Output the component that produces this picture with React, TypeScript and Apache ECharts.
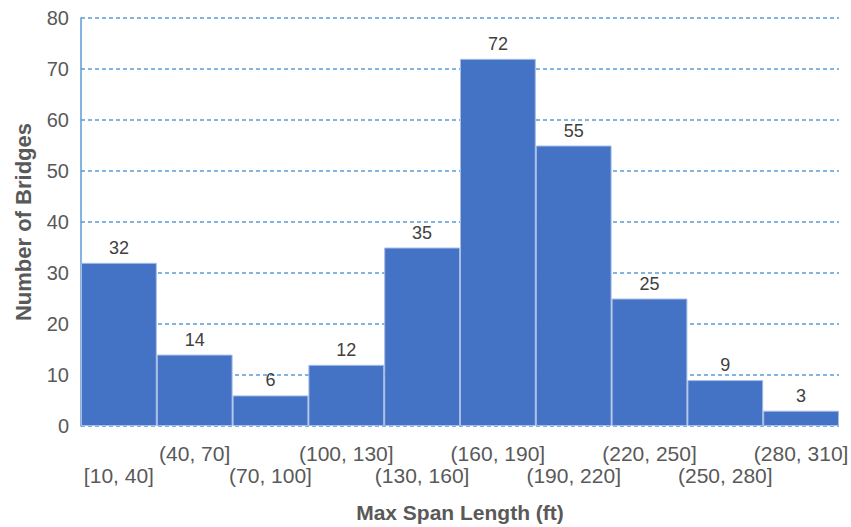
import React, { useEffect, useRef } from "react";
import * as echarts from "echarts";

// Span-length bins and bridge counts per bin
const bins = [
  "[10, 40]",
  "(40, 70]",
  "(70, 100]",
  "(100, 130]",
  "(130, 160]",
  "(160, 190]",
  "(190, 220]",
  "(220, 250]",
  "(250, 280]",
  "(280, 310]",
];
const counts = [32, 14, 6, 12, 35, 72, 55, 25, 9, 3];
const yTicks = { min: 0, max: 80, interval: 10 };

const FONT = "'Liberation Sans', Arial, sans-serif";

export default function App() {
  const ref = useRef<HTMLDivElement>(null);

  useEffect(() => {
    if (!ref.current) return;
    const chart = echarts.init(ref.current, null, { renderer: "svg" });
    chart.setOption({
      animation: false,
      backgroundColor: "#ffffff",
      grid: {
        left: 81,
        right: 12,
        top: 18,
        bottom: 101,
        containLabel: false,
        outerBoundsMode: "none",
      },
      xAxis: {
        type: "category",
        data: bins,
        name: "Max Span Length (ft)",
        nameLocation: "middle",
        nameGap: 76,
        nameTextStyle: { fontFamily: FONT, fontSize: 21, fontWeight: "bold", color: "#595959" },
        axisLine: { show: false },
        axisTick: { show: false },
        axisLabel: {
          interval: 0,
          margin: 16,
          fontFamily: FONT,
          fontSize: 21,
          color: "#595959",
          lineHeight: 22,
          hideOverlap: false,
          // Alternate bins drop to a second row so the labels don't collide
          formatter: (v: string, i: number) => (i % 2 === 0 ? "\n" + v : v),
        },
      },
      yAxis: {
        type: "value",
        min: yTicks.min,
        max: yTicks.max,
        interval: yTicks.interval,
        name: "Number of Bridges",
        nameLocation: "middle",
        nameGap: 47,
        nameTextStyle: { fontFamily: FONT, fontSize: 22, fontWeight: "bold", color: "#595959" },
        axisLine: { show: true, lineStyle: { color: "#5b9bd5", width: 1.5 } },
        axisTick: { show: false },
        axisLabel: { fontFamily: FONT, fontSize: 20, color: "#595959", margin: 12 },
        splitLine: { show: true, lineStyle: { color: "#5b9bd5", width: 1.5, type: [4, 3] } },
      },
      series: [
        {
          type: "bar",
          data: counts,
          barCategoryGap: "0%",
          itemStyle: { color: "#4472c4", borderColor: "#a8bde6", borderWidth: 1 },
          label: {
            show: true,
            position: "top",
            distance: 6,
            fontFamily: FONT,
            fontSize: 18,
            color: "#404040",
          },
        },
      ],
    });
    return () => chart.dispose();
  }, []);

  return (
    <div
      ref={ref}
      style={{ position: "fixed", left: 0, top: 0, width: 851, height: 527 }}
    />
  );
}
